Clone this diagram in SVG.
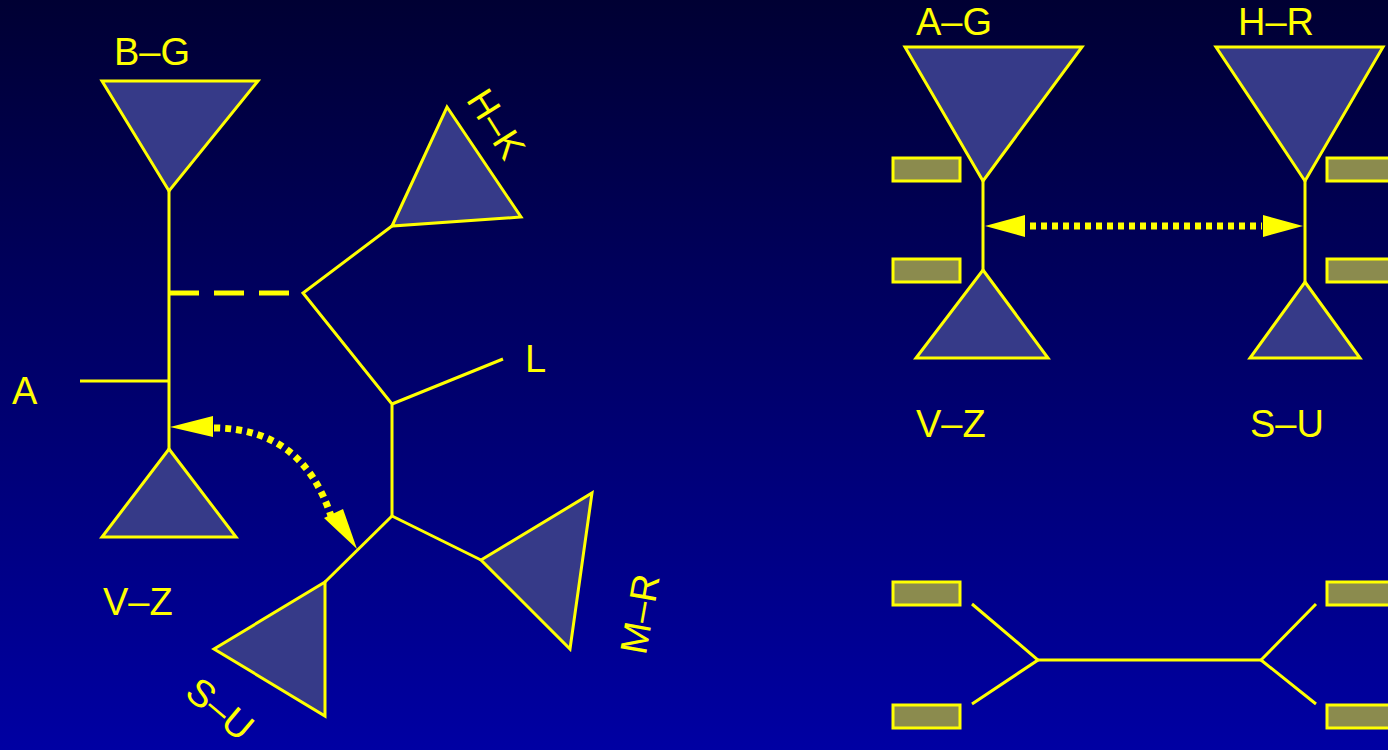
<svg xmlns="http://www.w3.org/2000/svg" width="1388" height="750" viewBox="0 0 1388 750">
<defs>
<linearGradient id="bg" x1="0" y1="0" x2="0" y2="1">
<stop offset="0" stop-color="#000033"/>
<stop offset="1" stop-color="#0000a3"/>
</linearGradient>
</defs>
<style>
.tri{fill:#363a88;stroke:#ffff00;stroke-width:3;stroke-linejoin:miter}
.ln{stroke:#ffff00;stroke-width:3;fill:none}
.box{fill:#8b8b4e;stroke:#ffff00;stroke-width:3}
.dot{stroke:#ffff00;stroke-width:7;fill:none;stroke-dasharray:6,5}
.head{fill:#ffff00}
.lbl{font-family:"Liberation Sans",Arial,sans-serif;font-size:38px;fill:#ffff00}
</style>
<rect x="0" y="0" width="1388" height="750" fill="url(#bg)"/>
<g id="connectors">
<line class="ln" x1="169" y1="191" x2="169" y2="449"/>
<line class="ln" x1="80" y1="381" x2="169" y2="381"/>
<line x1="169" y1="293" x2="303" y2="293" stroke="#ffff00" stroke-width="5" stroke-dasharray="30,15"/>
<polyline class="ln" points="392,226 303,293 392,404 392,516"/>
<line class="ln" x1="392" y1="404" x2="503" y2="359"/>
<line class="ln" x1="392" y1="516" x2="481" y2="560"/>
<line class="ln" x1="392" y1="516" x2="325" y2="582"/>
<path class="dot" d="M214,428 Q302,428 331,516"/>
<path class="head" d="M170,427 L213,416 L213,437 z"/>
<path class="head" d="M357,549 L324,518 L343,509 z"/>
<line class="ln" x1="983" y1="181" x2="983" y2="270"/>
<line class="ln" x1="1305" y1="181" x2="1305" y2="282"/>
<line class="dot" x1="1030" y1="226" x2="1262" y2="226"/>
<path class="head" d="M985,226 L1025,215 L1025,237 z"/>
<path class="head" d="M1303,226 L1263,215 L1263,237 z"/>
<polyline class="ln" points="972,604 1038,660 972,704"/>
<line class="ln" x1="1038" y1="660" x2="1261" y2="660"/>
<polyline class="ln" points="1316,604 1261,660 1316,704"/>
</g>
<g id="node-BG"><polygon class="tri" points="102,81 258,81 169,191"/><text class="lbl" x="114" y="65">B–G</text></g>
<g id="node-VZ-left"><polygon class="tri" points="169,449 236,537 102,537"/><text class="lbl" x="103" y="615">V–Z</text></g>
<g id="node-A"><text class="lbl" x="12" y="404">A</text></g>
<g id="node-HK"><polygon class="tri" points="392,226 447,107 521,217"/><text class="lbl" transform="translate(496,124) rotate(58)" text-anchor="middle" y="13">H–K</text></g>
<g id="node-L"><text class="lbl" x="525" y="372">L</text></g>
<g id="node-MR"><polygon class="tri" points="481,560 592,493 570,649"/><text class="lbl" transform="translate(640,614) rotate(-80)" text-anchor="middle" y="13">M–R</text></g>
<g id="node-SU-left"><polygon class="tri" points="325,582 214,649 325,716"/><text class="lbl" transform="translate(220,709) rotate(40)" text-anchor="middle" y="13">S–U</text></g>
<g id="node-AG"><polygon class="tri" points="905,47 1082,47 983,181"/><text class="lbl" x="916" y="35">A–G</text></g>
<g id="node-VZ-right"><polygon class="tri" points="983,270 1048,358 916,358"/><text class="lbl" x="916" y="437">V–Z</text></g>
<g id="node-HR"><polygon class="tri" points="1216,47 1383,47 1305,181"/><text class="lbl" x="1238" y="35">H–R</text></g>
<g id="node-SU-right"><polygon class="tri" points="1305,282 1360,358 1250,358"/><text class="lbl" x="1250" y="437">S–U</text></g>
<g id="boxes">
<rect class="box" x="893" y="158" width="67" height="23"/>
<rect class="box" x="893" y="259" width="67" height="23"/>
<rect class="box" x="1327" y="158" width="70" height="23"/>
<rect class="box" x="1327" y="259" width="70" height="23"/>
<rect class="box" x="893" y="582" width="67" height="23"/>
<rect class="box" x="893" y="705" width="67" height="23"/>
<rect class="box" x="1327" y="582" width="70" height="23"/>
<rect class="box" x="1327" y="705" width="70" height="23"/>
</g>
</svg>
